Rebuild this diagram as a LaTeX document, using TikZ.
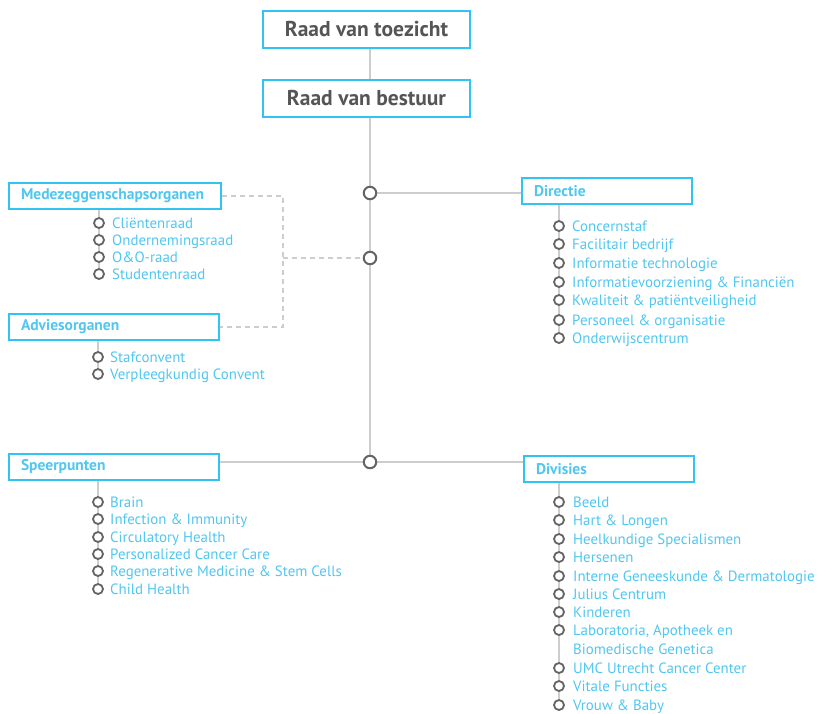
\documentclass[tikz,border=0pt]{standalone}
\usepackage{fontspec}
\setmainfont{PT Sans}
\usetikzlibrary{backgrounds}
\definecolor{cy}{RGB}{50,195,240}
\definecolor{cytext}{RGB}{80,198,240}
\definecolor{ln}{RGB}{205,205,205}
\definecolor{ringc}{RGB}{100,100,100}
\definecolor{ttl}{RGB}{85,85,85}
\begin{document}
\begin{tikzpicture}[x=1pt,y=-1pt,
  topbox/.style={draw=cy,line width=2pt,minimum width=207pt,minimum height=37pt,inner sep=0pt,font=\fontsize{21.5}{23}\selectfont\bfseries,text=ttl},
  hbox/.style={draw=cy,line width=2pt,minimum height=26pt,inner xsep=12pt,align=left,font=\fontsize{15.5}{17}\selectfont\bfseries,text=cytext,anchor=north west},
  mring/.style={circle,draw=ringc,line width=2pt,fill=white,minimum size=12.5pt,inner sep=0pt},
  sring/.style={circle,draw=ringc,line width=1.8pt,fill=white,minimum size=10pt,inner sep=0pt},
  item/.style={anchor=base west,inner sep=0pt,font=\fontsize{14.9}{16}\selectfont,text=cytext},
  conn/.style={draw=ln,line width=1.5pt},
  dconn/.style={draw=ln,line width=1.5pt,dash pattern=on 5pt off 4pt}]
\useasboundingbox (0,0) rectangle (818,713);

% top boxes
\node[topbox] (rvt) at (366.5,29) {Raad van toezicht};
\node[topbox] (rvb) at (366.5,98.5) {Raad van bestuur};

% main rings
\node[mring] (c1) at (370,193) {};
\node[mring] (c2) at (370,258) {};
\node[mring] (c3) at (370,462) {};

% header boxes
\node[hbox,text width=146pt] (dir) at (521,177) {Directie};
\node[hbox,text width=188pt] (mede) at (8,182) {Medezeggenschapsorganen};
\node[hbox,text width=186pt] (adv) at (8,313) {Adviesorganen};
\node[hbox,text width=186pt] (spk) at (8,453) {Speerpunten};
\node[hbox,text width=146pt] (div) at (523,455) {Divisies};

\coordinate (dj) at (283,258);

% lists
\foreach \y/\t [count=\i] in {223/Cliëntenraad,240/Ondernemingsraad,257/O\&O-raad,274/Studentenraad}{
  \node[sring] (m\i) at (99,\y) {};
  \node[item] (mt\i) at ([xshift=13pt,yshift=-5pt]m\i.center) {\t};
}
\foreach \y/\t [count=\i] in {357/Stafconvent,374/Verpleegkundig Convent}{
  \node[sring] (a\i) at (98,\y) {};
  \node[item] (at\i) at ([xshift=12pt,yshift=-5pt]a\i.center) {\t};
}
\foreach \y/\t [count=\i] in {226/Concernstaf,244/Facilitair bedrijf,263/Informatie technologie,282/Informatievoorziening \& Financiën,300/Kwaliteit \& patiëntveiligheid,320/Personeel \& organisatie,338/Onderwijscentrum}{
  \node[sring] (d\i) at (559,\y) {};
  \node[item] (dt\i) at ([xshift=13pt,yshift=-5pt]d\i.center) {\t};
}
\foreach \y/\t [count=\i] in {502/Brain,519/Infection \& Immunity,537/Circulatory Health,554/Personalized Cancer Care,571/Regenerative Medicine \& Stem Cells,589/Child Health}{
  \node[sring] (s\i) at (98,\y) {};
  \node[item] (st\i) at ([xshift=12pt,yshift=-5pt]s\i.center) {\t};
}
\foreach \y/\t [count=\i] in {502/Beeld,520/Hart \& Longen,539/Heelkundige Specialismen,557/Hersenen,576/Interne Geneeskunde \& Dermatologie,594/Julius Centrum,612/Kinderen,630/{Laboratoria, Apotheek en},668/UMC Utrecht Cancer Center,686/Vitale Functies,705/Vrouw \& Baby}{
  \node[sring] (v\i) at (559,\y) {};
  \node[item] (vt\i) at ([xshift=14pt,yshift=-5pt]v\i.center) {\t};
}
\node[item] (vt8b) at ([yshift=-19pt]vt8.base west) {Biomedische Genetica};

\begin{pgfonlayer}{background}
  \draw[conn] (rvt.south -| c1) -- (rvb.north -| c1);
  \draw[conn] (rvb.south -| c1) -- (c1) -- (c2) -- (c3);
  \draw[conn] (c1) -- (c1 -| dir.west);
  \draw[conn] (c3) -- (c3 -| spk.east);
  \draw[conn] (c3) -- (c3 -| div.west);
  \draw[dconn] (mede.east) -- (mede.east -| dj) -- (adv.east -| dj) -- (adv.east);
  \draw[dconn] (dj) -- (c2);
  \draw[conn] (mede.south -| m1) -- (m4);
  \draw[conn] (adv.south -| a1) -- (a2);
  \draw[conn] (dir.south -| d1) -- (d7);
  \draw[conn] (spk.south -| s1) -- (s6);
  \draw[conn] (div.south -| v1) -- (v11);
\end{pgfonlayer}
\end{tikzpicture}
\end{document}
